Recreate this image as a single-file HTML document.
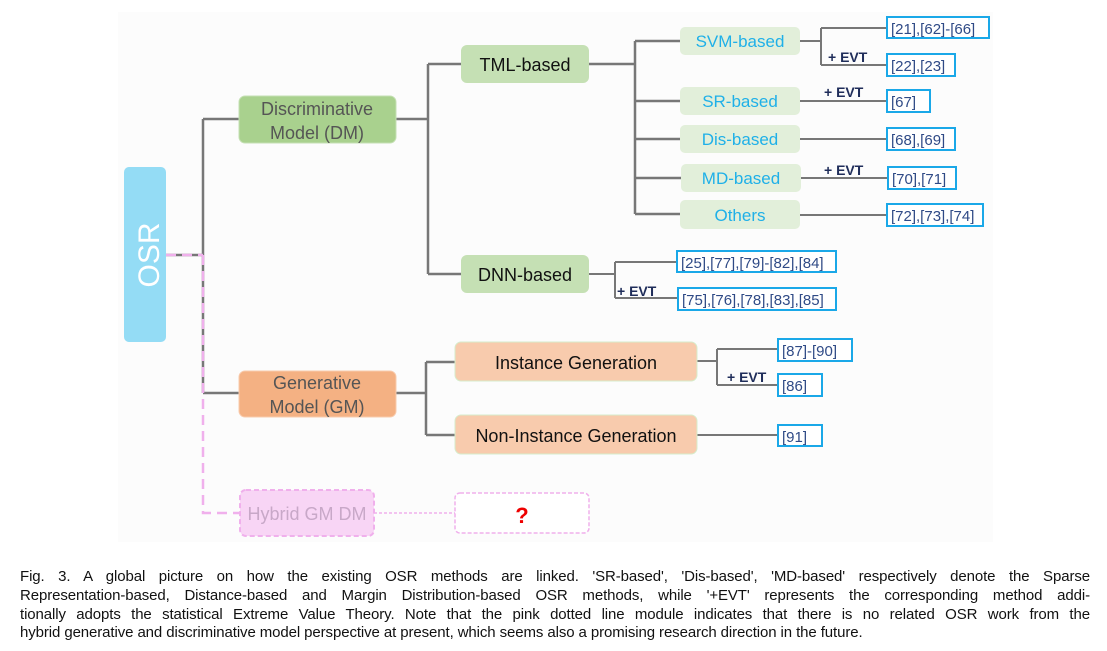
<!DOCTYPE html>
<html><head><meta charset="utf-8"><style>
html,body{margin:0;padding:0;background:#fff;width:1107px;height:651px;overflow:hidden}
svg{position:absolute;left:0;top:0}
.cap{position:absolute;left:20px;width:1070px;font-family:"Liberation Sans",sans-serif;font-size:15px;color:#111;text-align:justify;text-align-last:justify;white-space:nowrap;letter-spacing:-0.1px;line-height:19px}
</style></head><body>
<svg width="1107" height="651" viewBox="0 0 1107 651" font-family="Liberation Sans, DejaVu Sans, sans-serif">
<rect x="118" y="12" width="875" height="530" fill="#fcfcfc"/>
<g stroke="#777" stroke-width="2.5" fill="none">
<path d="M166 255H203M203 119V393M203 119H239M203 393H239"/>
<path d="M396 119H428M428 64V274M428 64H461M428 274H461"/>
<path d="M589 64H635M635 41V214M635 41H680M635 101H680M635 139H680M635 178H681M635 214H680"/>
<path d="M396 393H426M426 362V435M426 362H455M426 435H455"/>
</g>
<g stroke="#777" stroke-width="2" fill="none">
<path d="M800 41H821M821 28V65M821 28H887M821 65H887"/>
<path d="M800 101H887M800 139H887M801 178H888M800 215H887"/>
<path d="M589 274H615M615 262V298M615 262H677M615 298H678"/>
<path d="M697 361H717M717 349V385M717 349H778M717 385H778M697 435H778"/>
</g>
<path d="M166 255H203M203 255V513H239" stroke="#f0b0ec" stroke-width="2.5" stroke-dasharray="10,6" fill="none"/>
<path d="M374 513H455" stroke="#f0b0ec" stroke-width="1.5" stroke-dasharray="3,2" fill="none"/>
<rect x="124" y="167" width="42" height="175" rx="5" fill="#94dcf5"/>
<text transform="translate(159 255) rotate(-90)" text-anchor="middle" font-size="30" fill="#fff">OSR</text>
<rect x="239" y="96" width="157" height="47" rx="6" fill="#a9d18e" stroke="#c5e0b4"/>
<text x="317" y="115" text-anchor="middle" font-size="18" fill="#555">Discriminative</text>
<text x="317" y="139" text-anchor="middle" font-size="18" fill="#555">Model (DM)</text>
<rect x="461" y="45" width="128" height="38" rx="6" fill="#c5e0b4"/>
<text x="525" y="71" text-anchor="middle" font-size="18" fill="#111">TML-based</text>
<rect x="461" y="255" width="128" height="38" rx="6" fill="#c5e0b4"/>
<text x="525" y="281" text-anchor="middle" font-size="18" fill="#111">DNN-based</text>
<g fill="#e2efda"><rect x="680" y="27" width="120" height="28" rx="5"/><rect x="680" y="87" width="120" height="28" rx="5"/><rect x="680" y="125" width="120" height="28" rx="5"/><rect x="681" y="164" width="120" height="28" rx="5"/><rect x="680" y="200" width="120" height="29" rx="5"/></g>
<g fill="#1fb0e8" font-size="17" text-anchor="middle">
<text x="740" y="47">SVM-based</text><text x="740" y="107">SR-based</text><text x="740" y="145">Dis-based</text><text x="741" y="184">MD-based</text><text x="740" y="221">Others</text></g>
<g fill="#fff" stroke="#1aa8e8" stroke-width="2">
<rect x="887" y="17" width="102" height="21"/><rect x="887" y="54" width="68" height="22"/><rect x="887" y="90" width="43" height="22"/><rect x="887" y="128" width="68" height="22"/><rect x="888" y="167" width="68" height="22"/><rect x="887" y="204" width="96" height="22"/>
<rect x="677" y="251" width="159" height="21"/><rect x="678" y="288" width="158" height="22"/>
<rect x="778" y="339" width="74" height="22"/><rect x="778" y="374" width="44" height="22"/><rect x="778" y="425" width="44" height="21"/></g>
<g fill="#2f4a86" font-size="15">
<text x="891" y="34">[21],[62]-[66]</text><text x="891" y="71">[22],[23]</text><text x="891" y="107">[67]</text><text x="891" y="145">[68],[69]</text><text x="892" y="184">[70],[71]</text><text x="891" y="221">[72],[73],[74]</text>
<text x="681" y="268">[25],[77],[79]-[82],[84]</text><text x="682" y="305">[75],[76],[78],[83],[85]</text>
<text x="782" y="356">[87]-[90]</text><text x="782" y="391">[86]</text><text x="782" y="442">[91]</text></g>
<g fill="#1f2d5a" font-size="14" font-weight="bold">
<text x="828" y="62">+ EVT</text><text x="824" y="97">+ EVT</text><text x="824" y="175">+ EVT</text><text x="617" y="296">+ EVT</text><text x="727" y="382">+ EVT</text></g>
<rect x="239" y="371" width="157" height="46" rx="6" fill="#f4b183" stroke="#f8cbad"/>
<text x="317" y="389" text-anchor="middle" font-size="18" fill="#555">Generative</text>
<text x="317" y="413" text-anchor="middle" font-size="18" fill="#555">Model (GM)</text>
<rect x="455" y="342" width="242" height="39" rx="6" fill="#f8cbad" stroke="#d6eccb"/>
<text x="576" y="369" text-anchor="middle" font-size="18" fill="#111">Instance Generation</text>
<rect x="455" y="415" width="242" height="39" rx="6" fill="#f8cbad" stroke="#d6eccb"/>
<text x="576" y="442" text-anchor="middle" font-size="18" fill="#111">Non-Instance Generation</text>
<rect x="240" y="490" width="134" height="46" rx="6" fill="#f8d5f5" stroke="#f0b0ec" stroke-width="2" stroke-dasharray="5,3"/>
<text x="307" y="520" text-anchor="middle" font-size="18" fill="#c8a8c8">Hybrid GM DM</text>
<rect x="455" y="493" width="134" height="40" rx="5" fill="#fff" stroke="#f0b0ec" stroke-width="1.5" stroke-dasharray="4,2"/>
<text x="522" y="523" text-anchor="middle" font-size="22" font-weight="bold" fill="#e00">?</text>
</svg>
<div class="cap" style="top:567px">Fig. 3. A global picture on how the existing OSR methods are linked. 'SR-based', 'Dis-based', 'MD-based' respectively denote the Sparse</div>
<div class="cap" style="top:586px">Representation-based, Distance-based and Margin Distribution-based OSR methods, while '+EVT' represents the corresponding method addi-</div>
<div class="cap" style="top:605px">tionally adopts the statistical Extreme Value Theory. Note that the pink dotted line module indicates that there is no related OSR work from the</div>
<div class="cap" style="top:623px;text-align-last:left;text-align:left">hybrid generative and discriminative model perspective at present, which seems also a promising research direction in the future.</div>
</body></html>
